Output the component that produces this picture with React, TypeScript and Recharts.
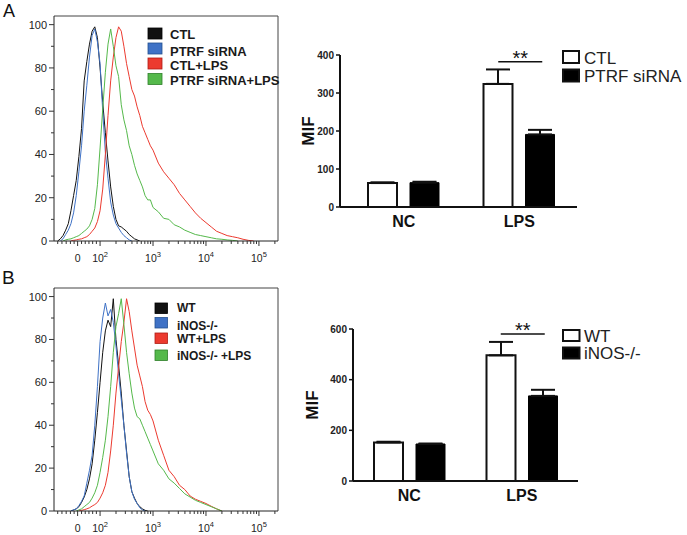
import React from 'react';
import {
  LineChart,
  Line,
  XAxis,
  YAxis,
  ReferenceLine,
  ComposedChart,
  Bar,
  ErrorBar,
  Scatter,
} from 'recharts';

const FONT = '"Liberation Sans", Arial, Helvetica, sans-serif';

// ---------- Histogram data (x = display position in decades, y = % of max) ----------
const GRID_U = [
  1.15, 1.2, 1.25, 1.3, 1.35, 1.4, 1.45, 1.5, 1.55, 1.6, 1.65, 1.7, 1.75, 1.8, 1.85, 1.9, 1.95,
  2.0, 2.05, 2.1, 2.15, 2.2, 2.25, 2.3, 2.35, 2.4, 2.45, 2.5, 2.55, 2.6, 2.65, 2.7, 2.75, 2.8,
  2.85, 2.9, 2.95, 3.0, 3.1, 3.2, 3.3, 3.4, 3.5, 3.6, 3.7, 3.8, 3.9, 4.0, 4.1, 4.2, 4.3, 4.4,
  4.5, 4.6, 4.7, 4.8, 4.9,
];
const lead = (n: number, vals: number[]) =>
  GRID_U.map((_, i) => (i >= n && i - n < vals.length ? vals[i - n] : null));

const A_CTL = lead(1, [0, 1, 2.5, 5, 8, 14, 21, 28, 39, 52, 74, 83, 91, 97, 99, 94, 80, 64, 50, 37, 25, 16, 10, 7, 6.5, 5.5, 4.5, 3, 2, 1, 0.5, 0]);
const A_SIRNA = lead(2, [0, 1, 3, 5, 8, 13, 21, 32, 44, 60, 72, 85, 95, 98, 92, 82, 60, 41, 29, 18, 12, 8, 6, 4, 2.5, 1.5, 0.5, 0]);
const A_CTL_LPS = lead(6, [0, 0.3, 0.5, 0.8, 1, 1.5, 2, 3, 4.5, 6, 9, 14, 24, 40, 58, 74, 85, 94, 99, 97, 90, 82, 76, 70, 67, 62, 58, 53, 50, 47, 44, 42, 36, 32, 29, 26, 22, 19, 16, 13, 10.5, 8.5, 6.5, 4.5, 3.5, 2.5, 2, 1.5, 0.8, 0.3, 0]);
const A_SIRNA_LPS = lead(3, [0, 0.5, 0.8, 1, 1.5, 2, 2.5, 3.5, 4.5, 5.5, 7, 10, 15, 26, 43, 61, 78, 91, 98, 90, 81, 76, 63, 56, 51, 44, 40, 35, 31, 28, 25, 21, 19, 19, 15.5, 13.5, 10.5, 10, 7.5, 6.5, 5, 4, 3, 2.5, 2, 1.5, 1, 0.8, 0.5, 0.3, 0]);

const B_WT = lead(6, [0, 0.5, 1, 2, 4, 6.5, 10, 15, 22, 33, 46, 60, 74, 84, 89, 86, 99, 80, 68, 55, 40, 28, 16, 9, 6, 3.5, 2, 1, 0.3, 0]);
const B_KO = lead(6, [0, 0.5, 1, 2.5, 4.5, 7, 13, 19, 26, 40, 58, 79, 90, 97, 91, 94, 88, 77, 64, 52, 40, 27, 16, 9, 5.5, 3.5, 1.5, 0.5, 0]);
const B_WT_LPS = lead(9, [0, 0.3, 0.6, 1, 1.5, 2.3, 3, 4, 6, 8.5, 12, 18, 28, 40, 55, 67, 79, 88, 99, 93, 84, 76, 68, 63, 58, 51, 47, 45, 42, 33, 26, 19, 16, 12, 10, 7, 5.5, 4.5, 3.5, 2.2, 1, 0]);
const B_KO_LPS = lead(8, [0, 0.5, 1, 2, 3, 4, 6, 8.5, 12, 18, 25, 33, 44, 58, 74, 86, 92, 99, 87, 74, 64, 55, 48, 44, 43, 40, 37, 34, 31, 28, 22, 19, 15, 13, 10.5, 8, 6.5, 5, 4, 3, 2, 1, 0]);

const HIST_A_NAMES = ['CTL', 'PTRF siRNA', 'CTL+LPS', 'PTRF siRNA+LPS'];
const HIST_B_NAMES = ['WT', 'iNOS-/-', 'WT+LPS', 'iNOS-/- +LPS'];
const HIST_COLORS = ['#111111', '#3f72c6', '#ec3a2f', '#55b94b'];
const HIST_BORDER = ['#000000', '#24508f', '#b01d15', '#2f7f2a'];

const HIST_MAJOR_U = [1.576, 2, 3, 4, 5];
const HIST_MAJOR_LABELS = ['0', '2', '3', '4', '5'];
const HIST_LINEAR_MINOR = [1.2, 1.28, 1.36, 1.44, 1.51, 1.65, 1.72, 1.79, 1.86, 1.93];
const HIST_Y_TICKS = [0, 10, 20, 30, 40, 50, 60, 70, 80, 90, 100];

const logMinor: number[] = [];
[2, 3, 4].forEach((d) => {
  for (let k = 2; k <= 9; k++) logMinor.push(+(d + Math.log10(k)).toFixed(4));
});
logMinor.push(+(5 + Math.log10(2)).toFixed(4));
const HIST_X_TICKS = [...HIST_LINEAR_MINOR, ...HIST_MAJOR_U, ...logMinor].sort((a, b) => a - b);

const buildHistRows = (s: (number | null)[][]) =>
  GRID_U.map((u, i) => ({ u, s0: s[0][i], s1: s[1][i], s2: s[2][i], s3: s[3][i] }));
const HIST_A_ROWS = buildHistRows([A_CTL, A_SIRNA, A_CTL_LPS, A_SIRNA_LPS]);
const HIST_B_ROWS = buildHistRows([B_WT, B_KO, B_WT_LPS, B_KO_LPS]);

// ---------- Bar data ----------
const BAR_CATS = ['NC', 'LPS'];
const A_BAR_NAMES = ['CTL', 'PTRF siRNA'];
const A_CTL_MIF = [63, 324];
const A_CTL_SEM = [2, 38];
const A_SIRNA_MIF = [64, 191];
const A_SIRNA_SEM = [2.5, 12];
const A_SIG = [null, 382];
const A_MIF_TICKS = [0, 100, 200, 300, 400];

const B_BAR_NAMES = ['WT', 'iNOS-/-'];
const B_WT_MIF = [152, 496];
const B_WT_SEM = [3, 53];
const B_KO_MIF = [146, 336];
const B_KO_SEM = [2, 24];
const B_SIG = [null, 580];
const B_MIF_TICKS = [0, 200, 400, 600];

const buildBarRows = (g1: number[], e1: number[], g2: number[], e2: number[], sig: (number | null)[]) =>
  BAR_CATS.map((name, i) => ({
    name,
    g1: g1[i],
    g1e: [0, e1[i]],
    g2: g2[i],
    g2e: [0, e2[i]],
    sig: sig[i],
  }));
const BAR_A_ROWS = buildBarRows(A_CTL_MIF, A_CTL_SEM, A_SIRNA_MIF, A_SIRNA_SEM, A_SIG);
const BAR_B_ROWS = buildBarRows(B_WT_MIF, B_WT_SEM, B_KO_MIF, B_KO_SEM, B_SIG);

// ---------- Ticks ----------
const HistXTick = (props: any) => {
  const { x, y, payload } = props;
  const idx = HIST_MAJOR_U.indexOf(payload.value);
  const major = idx >= 0;
  return (
    <g>
      <line x1={x} y1={y} x2={x} y2={y + (major ? 5 : 3)} stroke="#333" strokeWidth={1} />
      {major &&
        (idx === 0 ? (
          <text x={x} y={y + 21} textAnchor="middle" fontSize={10.5} fill="#222" fontFamily={FONT}>
            0
          </text>
        ) : (
          <text x={x} y={y + 21} textAnchor="middle" fontSize={10.5} fill="#222" fontFamily={FONT}>
            10
            <tspan dy={-5} fontSize={7.5}>
              {HIST_MAJOR_LABELS[idx]}
            </tspan>
          </text>
        ))}
    </g>
  );
};

const HistYTick = (props: any) => {
  const { x, y, payload } = props;
  const v = payload.value;
  const major = v % 20 === 0;
  return (
    <g>
      <line x1={x} y1={y} x2={x - (major ? 5 : 3)} y2={y} stroke="#333" strokeWidth={1} />
      {major && (
        <text x={x - 7} y={y} dy="0.36em" textAnchor="end" fontSize={11} fill="#222" fontFamily={FONT}>
          {v}
        </text>
      )}
    </g>
  );
};

function Histogram({ rows, top, height }: { rows: any[]; top: number; height: number }) {
  return (
    <div style={{ position: 'absolute', left: 0, top }}>
      <LineChart width={290} height={height} data={rows} margin={{ top: 16, right: 12, bottom: 0, left: 0 }}>
        <XAxis
          type="number"
          dataKey="u"
          domain={[1.13, 5.36]}
          ticks={HIST_X_TICKS}
          interval={0}
          allowDataOverflow
          tick={(p: any) => <HistXTick {...p} />}
          tickLine={false}
          tickSize={0}
          tickMargin={0}
          height={29}
          axisLine={{ stroke: '#222' }}
        />
        <YAxis
          type="number"
          domain={[0, 104]}
          ticks={HIST_Y_TICKS}
          interval={0}
          allowDataOverflow
          tick={(p: any) => <HistYTick {...p} />}
          tickLine={false}
          tickSize={0}
          tickMargin={0}
          width={54}
          axisLine={{ stroke: '#222' }}
        />
        <ReferenceLine y={104} stroke="#444" strokeWidth={1} />
        <ReferenceLine x={5.36} stroke="#444" strokeWidth={1} />
        {[0, 1, 2, 3].map((i) => (
          <Line
            key={i}
            dataKey={`s${i}`}
            type="linear"
            stroke={HIST_COLORS[i]}
            strokeWidth={1}
            dot={false}
            activeDot={false}
            isAnimationActive={false}
          />
        ))}
      </LineChart>
    </div>
  );
}

const SigShape = (props: any) => {
  const { cx, cy, payload } = props;
  if (payload == null || payload.sig == null || !isFinite(cx) || !isFinite(cy)) return <g />;
  return (
    <g>
      <line x1={cx - 21} y1={cy} x2={cx + 23} y2={cy} stroke="#111" strokeWidth={1.5} />
      <text x={cx + 1} y={cy + 3} textAnchor="middle" fontSize={20} fill="#111" fontFamily={FONT}>
        **
      </text>
    </g>
  );
};

function BarPanel({
  rows,
  top,
  yAxisWidth,
  domainMax,
  ticks,
  padLeft,
  mifX,
  rightMargin,
}: {
  rows: any[];
  top: number;
  yAxisWidth: number;
  domainMax: number;
  ticks: number[];
  padLeft: number;
  mifX: number;
  rightMargin: number;
}) {
  return (
    <div style={{ position: 'absolute', left: 290, top }}>
      <ComposedChart
        width={397}
        height={200}
        data={rows}
        margin={{ top: 15, right: rightMargin, bottom: 0, left: 0 }}
        barSize={29}
        barGap={13}
      >
        <XAxis
          dataKey="name"
          type="category"
          padding={{ left: padLeft, right: 0 }}
          tickLine={false}
          tickSize={0}
          tickMargin={9}
          height={33}
          axisLine={{ stroke: '#111', strokeWidth: 2 }}
          tick={{ fontSize: 16, fontWeight: 'bold', fill: '#111', fontFamily: FONT }}
        />
        <YAxis
          type="number"
          domain={[0, domainMax]}
          ticks={ticks}
          interval={0}
          width={yAxisWidth}
          tickSize={4}
          tickMargin={2}
          axisLine={{ stroke: '#111', strokeWidth: 2 }}
          tickLine={{ stroke: '#111', strokeWidth: 1.5 }}
          tick={{ fontSize: 10, fontWeight: 'bold', fill: '#222', fontFamily: FONT }}
          label={(lp: any) => {
            const vb = lp.viewBox || {};
            const cy = (vb.y || 0) + (vb.height || 0) / 2;
            return (
              <text
                x={mifX}
                y={cy}
                transform={`rotate(-90, ${mifX}, ${cy})`}
                textAnchor="middle"
                fontSize={17}
                fontWeight="bold"
                fill="#111"
                fontFamily={FONT}
              >
                MIF
              </text>
            );
          }}
        />
        <Bar dataKey="g1" fill="#ffffff" stroke="#111" strokeWidth={2} isAnimationActive={false}>
          <ErrorBar dataKey="g1e" direction="y" width={12} strokeWidth={2} stroke="#111" />
        </Bar>
        <Bar dataKey="g2" fill="#000000" stroke="#000" strokeWidth={1} isAnimationActive={false}>
          <ErrorBar dataKey="g2e" direction="y" width={12} strokeWidth={2} stroke="#111" />
        </Bar>
        <Scatter dataKey="sig" shape={(p: any) => <SigShape {...p} />} isAnimationActive={false} />
      </ComposedChart>
    </div>
  );
}

function Overlay() {
  const histA = { x: 148, w: 14, h: 11, ys: [28, 43, 58, 73.5], tx: 170, bases: [38.5, 55.5, 69.5, 85], fs: 13 };
  const histB = { x: 155, w: 12.5, h: 10.5, ys: [303, 317.5, 333, 350], tx: 177, bases: [312, 329.5, 343, 360], fs: 12 };
  return (
    <svg
      width={687}
      height={535}
      style={{ position: 'absolute', left: 0, top: 0, pointerEvents: 'none' }}
      fontFamily={FONT}
    >
      <text x={3} y={17} fontSize={18} fill="#111">A</text>
      <text x={2} y={284} fontSize={19} fill="#111">B</text>

      {HIST_A_NAMES.map((n, i) => (
        <g key={`ha${i}`}>
          <rect x={histA.x} y={histA.ys[i]} width={histA.w} height={histA.h} fill={HIST_COLORS[i]} stroke={HIST_BORDER[i]} strokeWidth={0.8} />
          <text x={histA.tx} y={histA.bases[i]} fontSize={histA.fs} fontWeight="bold" fill="#1a1a1a">{n}</text>
        </g>
      ))}
      {HIST_B_NAMES.map((n, i) => (
        <g key={`hb${i}`}>
          <rect x={histB.x} y={histB.ys[i]} width={histB.w} height={histB.h} fill={HIST_COLORS[i]} stroke={HIST_BORDER[i]} strokeWidth={0.8} />
          <text x={histB.tx} y={histB.bases[i]} fontSize={histB.fs} fontWeight="bold" fill="#1a1a1a">{n}</text>
        </g>
      ))}

      {A_BAR_NAMES.map((n, i) => (
        <g key={`ba${i}`}>
          <rect x={563} y={i === 0 ? 51 : 69.5} width={16} height={12} fill={i === 0 ? '#fff' : '#000'} stroke="#111" strokeWidth={2} />
          <text x={584} y={i === 0 ? 63.5 : 82} fontSize={17} fill="#222">{n}</text>
        </g>
      ))}
      {B_BAR_NAMES.map((n, i) => (
        <g key={`bb${i}`}>
          <rect x={563} y={i === 0 ? 330 : 347.5} width={16.5} height={11} fill={i === 0 ? '#fff' : '#000'} stroke="#111" strokeWidth={2} />
          <text x={584} y={i === 0 ? 341.5 : 359} fontSize={17} fill="#222">{n}</text>
        </g>
      ))}
    </svg>
  );
}

export default function App() {
  return (
    <div
      style={{
        position: 'absolute',
        left: 0,
        top: 0,
        width: 687,
        height: 535,
        background: '#fff',
        fontFamily: FONT,
        overflow: 'hidden',
      }}
    >
      <Histogram rows={HIST_A_ROWS} top={0} height={270} />
      <Histogram rows={HIST_B_ROWS} top={272} height={268} />
      <BarPanel rows={BAR_A_ROWS} top={40} yAxisWidth={50} domainMax={400} ticks={A_MIF_TICKS} padLeft={6} mifX={24} rightMargin={110} />
      <BarPanel rows={BAR_B_ROWS} top={314} yAxisWidth={63} domainMax={600} ticks={B_MIF_TICKS} padLeft={0} mifX={28} rightMargin={109} />
      <Overlay />
    </div>
  );
}
